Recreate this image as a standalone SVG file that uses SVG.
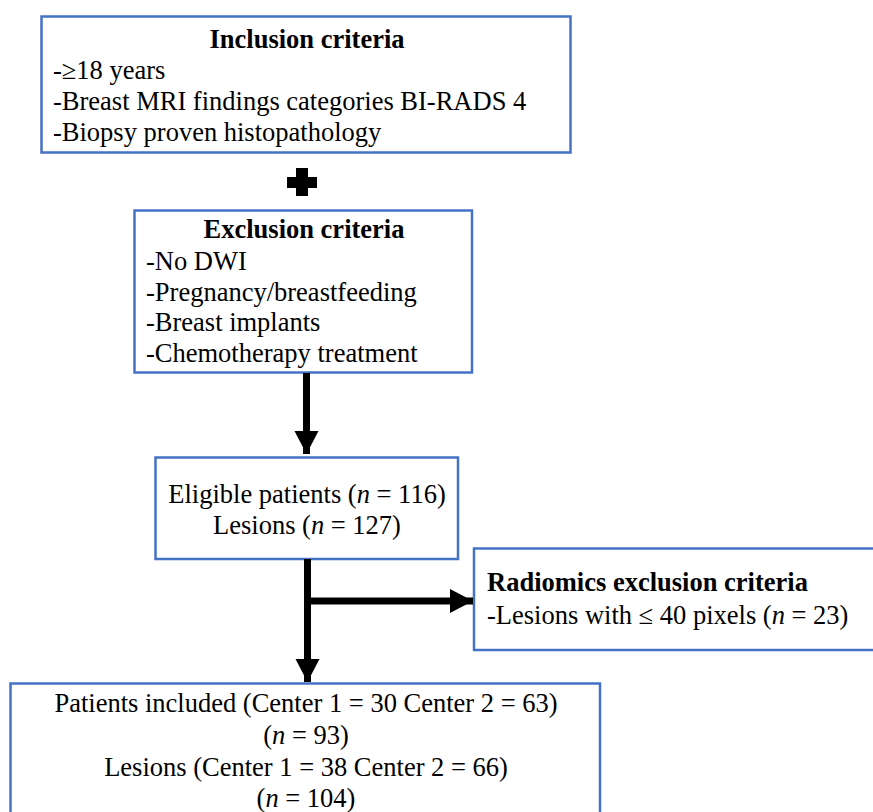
<svg xmlns="http://www.w3.org/2000/svg" width="873" height="812" viewBox="0 0 873 812">
<style>
.box{fill:#fff;stroke:#4472C4;stroke-width:2.5}
text{font-family:"Liberation Serif","Times New Roman","DejaVu Serif",serif;font-size:26.5px;fill:#000}
.b{font-weight:bold}
.c{text-anchor:middle}
.conn{stroke:#000;stroke-width:7;fill:none}
</style>
<defs>
<marker id="ah" markerUnits="userSpaceOnUse" markerWidth="26" markerHeight="26" refX="23" refY="12" orient="auto">
<path d="M0,0 L23,12 L0,24 Z" fill="#000"/>
</marker>
</defs>
<rect width="873" height="812" fill="#fff"/>
<g id="inclusion">
<rect class="box" x="41.5" y="16.5" width="529" height="136"/>
<text class="b c" x="307" y="48">Inclusion criteria</text>
<text x="53" y="79">-≥18 years</text>
<text x="53" y="110">-Breast MRI findings categories BI-RADS 4</text>
<text x="53" y="141">-Biopsy proven histopathology</text>
</g>
<g id="plus">
<path d="M296,168 h12 v9 h9 v11 h-9 v8 h-12 v-8 h-9 v-11 h9 Z" fill="#000"/>
</g>
<g id="exclusion">
<rect class="box" x="134.5" y="210.5" width="337.5" height="162"/>
<text class="b c" x="304" y="238">Exclusion criteria</text>
<text x="146" y="270">-No DWI</text>
<text x="146" y="301">-Pregnancy/breastfeeding</text>
<text x="146" y="331">-Breast implants</text>
<text x="146" y="362">-Chemotherapy treatment</text>
</g>
<g id="eligible">
<rect class="box" x="155.5" y="457.5" width="302.5" height="101.5"/>
<text class="c" x="307" y="503">Eligible patients (<tspan font-style="italic">n</tspan> = 116)</text>
<text class="c" x="307" y="534">Lesions (<tspan font-style="italic">n</tspan> = 127)</text>
</g>
<g id="radiomics">
<rect class="box" x="474" y="548.5" width="410" height="101.5"/>
<text class="b" x="487" y="591">Radiomics exclusion criteria</text>
<text x="487" y="624">-Lesions with ≤ 40 pixels (<tspan font-style="italic">n</tspan> = 23)</text>
</g>
<g id="included">
<rect class="box" x="10.5" y="683.5" width="589.5" height="140"/>
<text class="c" x="306" y="712">Patients included (Center 1 = 30 Center 2 = 63)</text>
<text class="c" x="306" y="744">(<tspan font-style="italic">n</tspan> = 93)</text>
<text class="c" x="306" y="776">Lesions (Center 1 = 38 Center 2 = 66)</text>
<text class="c" x="306" y="807">(<tspan font-style="italic">n</tspan> = 104)</text>
</g>
<g id="connectors">
<line class="conn" x1="306.5" y1="373" x2="306.5" y2="454" marker-end="url(#ah)"/>
<line class="conn" x1="307.5" y1="559" x2="307.5" y2="682" marker-end="url(#ah)"/>
<line class="conn" x1="307.5" y1="601" x2="473" y2="601" marker-end="url(#ah)"/>
</g>
</svg>
